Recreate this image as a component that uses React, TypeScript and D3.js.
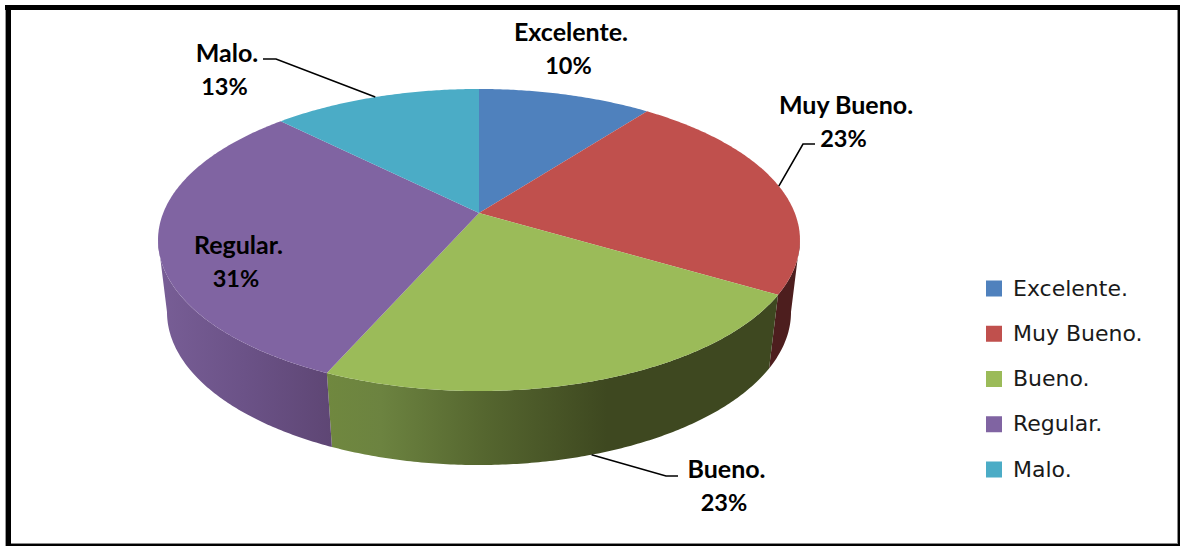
import React from "react";
import * as d3 from "d3";

// Survey shares in percent, in pie order (clockwise from twelve o'clock).
const categories = ["Excelente.", "Muy Bueno.", "Bueno.", "Regular.", "Malo."];
const shares = [10.4, 23.1, 23.1, 30.9, 12.5];
const topColors = ["#4f81bd", "#c0504d", "#9bbb59", "#8064a2", "#4bacc6"];
// Horizontal shading stops for the rim of each slice: [offset, colour].
const rimStops: [number, string][][] = [
  [[0, "#2c4a70"], [1, "#2c4a70"]],
  [[0, "#4d1e1e"], [1, "#4d1e1e"]],
  [[0, "#70883f"], [0.12, "#6c8340"], [0.35, "#55662f"], [0.62, "#3e4820"], [1, "#3e4820"]],
  [[0, "#785e96"], [0.5, "#6b5287"], [1, "#5e4674"]],
  [[0, "#2c6a7c"], [1, "#2c6a7c"]],
];

const WIDTH = 1180;
const HEIGHT = 546;

// The disc is tilted in perspective: a plane is described by its centre and
// its axis scales, with a depth term that makes the near side look larger.
type Plane = { cx: number; cy: number; a: number; b: number; p: number };
const topPlane: Plane = { cx: 479, cy: 213, a: 315.8, b: 146.2, p: 0.1788 };
const basePlane: Plane = { cx: 479, cy: 285.6, a: 307.3, b: 148.4, p: 0.173 };

function project(pl: Plane, theta: number): [number, number] {
  const X = Math.sin(theta);
  const Y = -Math.cos(theta);
  const w = 1 - pl.p * Y;
  return [pl.cx + (pl.a * X) / w, pl.cy + (pl.b * Y) / w];
}

// Angle where the plane's rim turns away from the viewer, on the right side.
const horizon = (pl: Plane) => Math.acos(-pl.p);

function rimPoints(pl: Plane, from: number, to: number): [number, number][] {
  const steps = Math.max(2, Math.ceil(Math.abs(to - from) / 0.01));
  return d3.range(steps + 1).map((i) => project(pl, from + ((to - from) * i) / steps));
}

const line = d3.line();

const pie = d3.pie<number>().sort(null).value((d) => d);
const arcs = pie(shares);

const pct = (v: number) => `${Math.round(v)}%`;

function topPath(start: number, end: number): string {
  const pts: [number, number][] = [[topPlane.cx, topPlane.cy], ...rimPoints(topPlane, start, end)];
  return line(pts) + "Z";
}

function visibleSpan(pl: Plane, start: number, end: number): [number, number] {
  return [Math.max(start, horizon(pl)), Math.min(end, 2 * Math.PI - horizon(pl))];
}

function sidePath(start: number, end: number): string | null {
  const [loT, hiT] = visibleSpan(topPlane, start, end);
  const [loB, hiB] = visibleSpan(basePlane, start, end);
  if (hiT <= loT || hiB <= loB) return null;
  return line([...rimPoints(topPlane, loT, hiT), ...rimPoints(basePlane, hiB, loB)]) + "Z";
}

const midAngle = (i: number) => (arcs[i].startAngle + arcs[i].endAngle) / 2;

// Elbow leaders: slice rim, then a short horizontal run next to the label.
const leaders: { i: number; plane: Plane; knee: [number, number]; end: [number, number] }[] = [
  { i: 4, plane: topPlane, knee: [276, 59], end: [263, 59] },
  { i: 1, plane: topPlane, knee: [803, 144], end: [815, 144] },
  { i: 2, plane: basePlane, knee: [666, 476], end: [678, 476] },
];

// Label block centres and first baselines.
const labelAnchors: [number, number][] = [
  [571, 41],
  [846, 114],
  [726.5, 478],
  [238.5, 254],
  [227, 62],
];

const legendY = d3.scalePoint<string>().domain(categories).range([288.5, 469.5]);

const labelFont = "Lato, Carlito, 'Liberation Sans', sans-serif";

export default function App() {
  return (
    <svg
      width={WIDTH}
      height={HEIGHT}
      viewBox={`0 0 ${WIDTH} ${HEIGHT}`}
      style={{ position: "fixed", left: 0, top: 0, display: "block", background: "#fff" }}
    >
      <defs>
        {arcs.map((arc, i) => {
          const [loT, hiT] = visibleSpan(topPlane, arc.startAngle, arc.endAngle);
          const [loB, hiB] = visibleSpan(basePlane, arc.startAngle, arc.endAngle);
          const outline =
            hiT > loT && hiB > loB
              ? [...rimPoints(topPlane, loT, hiT), ...rimPoints(basePlane, loB, hiB)]
              : rimPoints(topPlane, arc.startAngle, arc.endAngle);
          const [x0, x1] = d3.extent(outline, (d) => d[0]) as [number, number];
          return (
            <linearGradient key={i} id={`rim-${i}`} gradientUnits="userSpaceOnUse" x1={x0} x2={x1} y1={0} y2={0}>
              {rimStops[i].map(([o, c], j) => (
                <stop key={j} offset={o} stopColor={c} />
              ))}
            </linearGradient>
          );
        })}
      </defs>

      {/* Frame around the chart */}
      <rect x={5} y={5} width={1} height={541} fill="#9a9a9a" />
      <rect x={6} y={5} width={5} height={541} fill="#000" />
      <rect x={5} y={5} width={1175} height={5} fill="#000" />
      <rect x={1177} y={10} width={1} height={534} fill="#8a8a8a" />
      <rect x={1178} y={5} width={2} height={541} fill="#000" />
      <rect x={11} y={543} width={1167} height={1} fill="#8a8a8a" />
      <rect x={6} y={544} width={1174} height={2} fill="#000" />

      {/* Rim of the disc */}
      {arcs.map((arc, i) => {
        const d = sidePath(arc.startAngle, arc.endAngle);
        return d ? <path key={i} d={d} fill={`url(#rim-${i})`} /> : null;
      })}

      {/* Top face */}
      {arcs.map((arc, i) => (
        <path key={i} d={topPath(arc.startAngle, arc.endAngle)} fill={topColors[i]} />
      ))}

      {/* Leaders */}
      {leaders.map(({ i, plane, knee, end }) => (
        <path
          key={i}
          d={line([project(plane, midAngle(i)), knee, end]) ?? ""}
          fill="none"
          stroke="#000"
          strokeWidth={1.6}
        />
      ))}

      {/* Data labels */}
      {categories.map((c, i) => (
        <text
          key={c}
          textAnchor="middle"
          fontFamily={labelFont}
          fontWeight={700}
          fill="#000"
        >
          <tspan x={labelAnchors[i][0]} y={labelAnchors[i][1]} fontSize={25}>
            {c}
          </tspan>
          <tspan x={labelAnchors[i][0] - 2.5} y={labelAnchors[i][1] + 33} fontSize={23.5}>
            {pct(shares[i])}
          </tspan>
        </text>
      ))}

      {/* Legend */}
      {categories.map((c, i) => (
        <g key={c} transform={`translate(986,${legendY(c)})`}>
          <rect x={0} y={-8} width={16} height={16} fill={topColors[i]} />
          <text x={27} y={7} fontFamily="'DejaVu Sans', sans-serif" fontSize={22} fill="#1a1a1a">
            {c}
          </text>
        </g>
      ))}
    </svg>
  );
}
